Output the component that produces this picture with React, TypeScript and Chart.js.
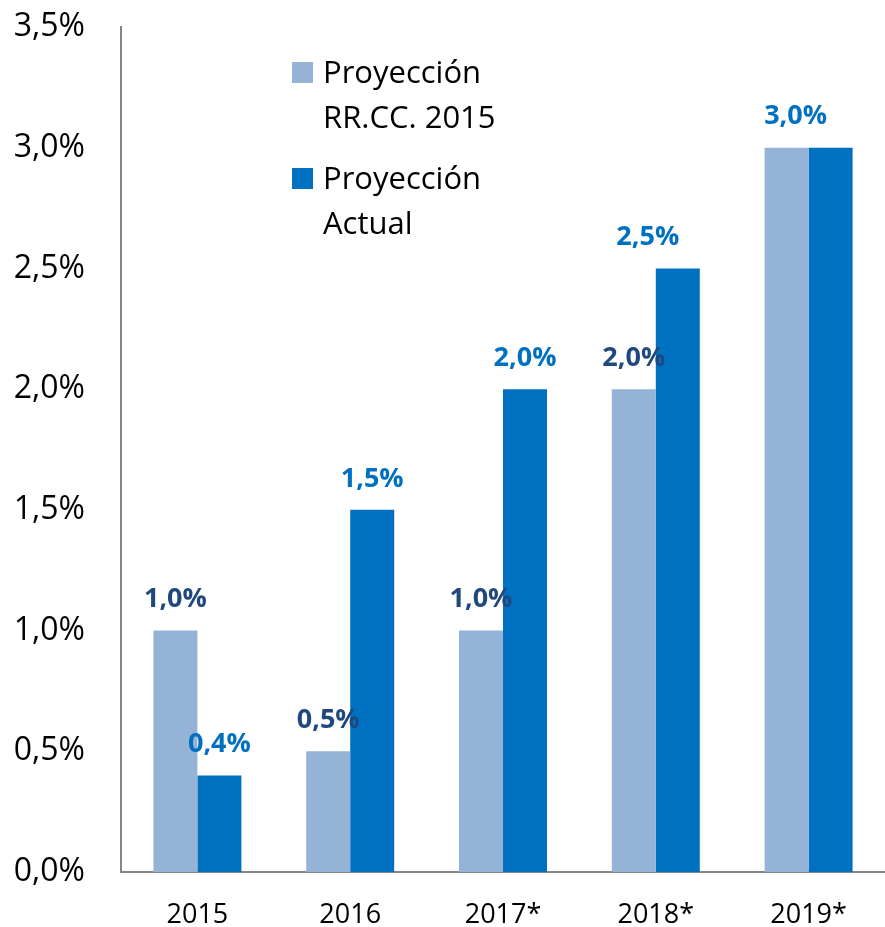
import React, { useEffect, useRef } from "react";
import { Chart, registerables } from "chart.js";

Chart.register(...registerables);

const categories = ["2015", "2016", "2017*", "2018*", "2019*"];
const proyeccionRRCC = [1.0, 0.5, 1.0, 2.0, 3.0];
const proyeccionActual = [0.4, 1.5, 2.0, 2.5, 3.0];
const seriesNames = [["Proyección", "RR.CC. 2015"], ["Proyección", "Actual"]];
const yTicks = [0, 0.5, 1.0, 1.5, 2.0, 2.5, 3.0, 3.5];

const LIGHT = "#95B3D7";
const DARK = "#0070C0";
const NAVY = "#1F497D";
const FONT = "'Open Sans', 'Noto Sans', sans-serif";

// label display tweaks (per dataset, per category): [dx, visible]
const labelDx = [
  [0, 0, 0, 0, 0],
  [0, 0, 0, -30, -35],
];
const labelVisible = [
  [true, true, true, true, false],
  [true, true, true, true, true],
];

const fmt = (v: number) => v.toFixed(1).replace(".", ",") + "%";

const labelPlugin = {
  id: "valueLabels",
  afterDatasetsDraw(chart: any) {
    const ctx = chart.ctx;
    ctx.save();
    ctx.font = `bold 27px ${FONT}`;
    ctx.textAlign = "center";
    ctx.textBaseline = "middle";
    chart.data.datasets.forEach((ds: any, di: number) => {
      const meta = chart.getDatasetMeta(di);
      meta.data.forEach((bar: any, i: number) => {
        if (!labelVisible[di][i]) return;
        ctx.fillStyle = di === 0 ? NAVY : DARK;
        ctx.fillText(fmt(ds.data[i]), bar.x + labelDx[di][i], bar.y - 31);
      });
    });
    ctx.restore();
  },
};

const legendPlugin = {
  id: "customLegend",
  afterDraw(chart: any) {
    const ctx = chart.ctx;
    ctx.save();
    ctx.font = `31px ${FONT}`;
    ctx.textAlign = "left";
    ctx.textBaseline = "alphabetic";
    const x0 = 292;
    const tops = [62, 168];
    chart.data.datasets.forEach((ds: any, di: number) => {
      ctx.fillStyle = ds.backgroundColor;
      ctx.fillRect(x0, tops[di], 21, 21);
      ctx.fillStyle = "#000000";
      seriesNames[di].forEach((line: string, li: number) => {
        ctx.fillText(line, x0 + 31, tops[di] + 21 + li * 45);
      });
    });
    ctx.restore();
  },
};

export default function App() {
  const ref = useRef<HTMLCanvasElement | null>(null);
  useEffect(() => {
    if (!ref.current) return;
    const chart = new Chart(ref.current, {
      type: "bar",
      data: {
        labels: categories,
        datasets: [
          {
            label: seriesNames[0].join(" "),
            data: proyeccionRRCC,
            backgroundColor: LIGHT,
            categoryPercentage: 0.576,
            barPercentage: 1,
          },
          {
            label: seriesNames[1].join(" "),
            data: proyeccionActual,
            backgroundColor: DARK,
            categoryPercentage: 0.576,
            barPercentage: 1,
          },
        ],
      },
      options: {
        animation: false,
        responsive: false,
        maintainAspectRatio: false,
        layout: { padding: { top: 27, right: 0, left: 0, bottom: 0 } },
        plugins: {
          legend: { display: false },
          tooltip: { enabled: false },
        },
        scales: {
          x: {
            grid: { display: false, drawTicks: false, tickLength: 0 },
            border: { display: true, color: "#868686", width: 2 },
            ticks: {
              color: "#000000",
              font: { family: FONT, size: 27 },
              padding: 27,
              maxRotation: 0,
            },
            afterFit(scale: any) {
              scale.height = 55;
              scale.paddingLeft = 0;
              scale.paddingRight = 0;
            },
          },
          y: {
            min: 0,
            max: 3.5,
            grid: { display: false, drawTicks: false, tickLength: 0 },
            border: { display: true, color: "#868686", width: 2 },
            afterBuildTicks(scale: any) {
              scale.ticks = yTicks.map((v) => ({ value: v }));
            },
            ticks: {
              color: "#000000",
              font: { family: FONT, size: 32 },
              padding: 36,
              callback: (v: any) => fmt(Number(v)),
            },
            afterFit(scale: any) {
              scale.width = 121;
              scale.paddingTop = 0;
              scale.paddingBottom = 0;
            },
          },
        },
      },
      plugins: [labelPlugin, legendPlugin],
    });
    return () => chart.destroy();
  }, []);
  return (
    <div style={{ position: "absolute", left: 0, top: 0, width: 885, height: 927, background: "#fff" }}>
      <canvas ref={ref} width={885} height={927} style={{ display: "block", width: 885, height: 927 }} />
    </div>
  );
}
